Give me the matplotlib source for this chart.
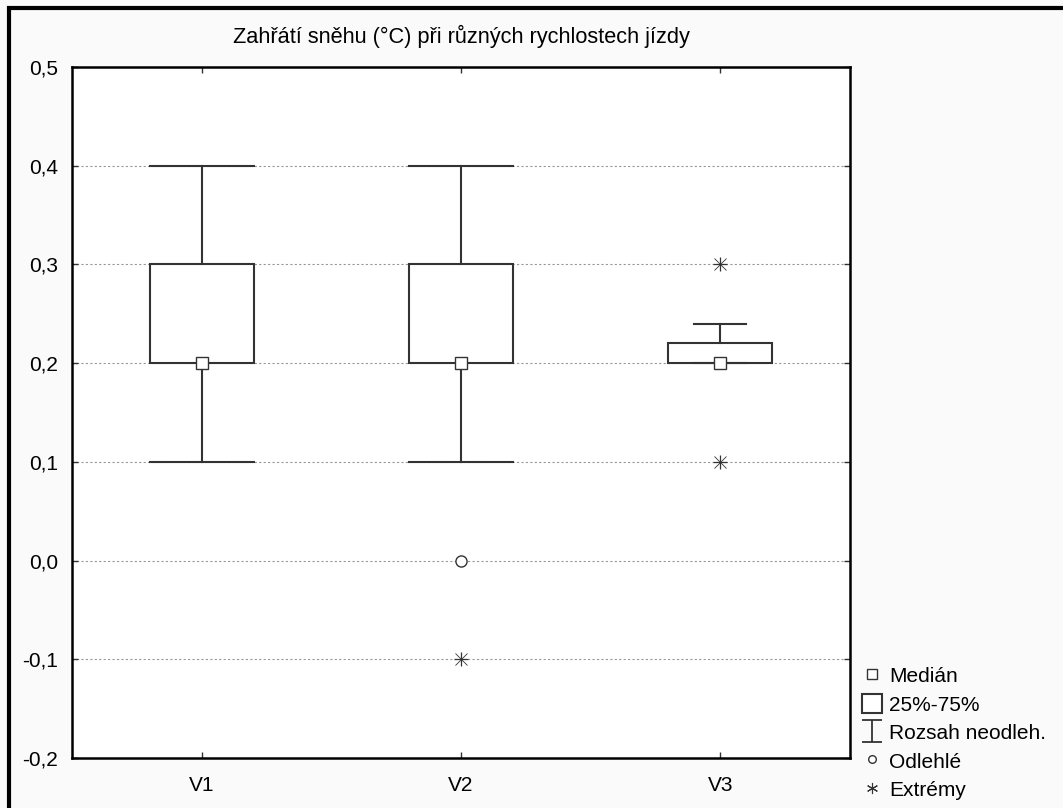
import numpy as np
import matplotlib.pyplot as plt
from matplotlib.lines import Line2D
from matplotlib.patches import Rectangle
from matplotlib.path import Path

plt.rcParams['font.family'] = ['Liberation Sans', 'DejaVu Sans']

# box summary
cats = ['V1', 'V2', 'V3']
med = [0.2, 0.2, 0.2]
q1 = [0.2, 0.2, 0.2]
q3 = [0.3, 0.3, 0.22]
whislo = [0.1, 0.1, 0.2]
whishi = [0.4, 0.4, 0.24]
outliers = [[], [0.0], []]
extremes = [[], [-0.1], [0.3, 0.1]]
yticks = [-0.2, -0.1, 0.0, 0.1, 0.2, 0.3, 0.4, 0.5]

W, H = 1063, 808
fs = 15
fig = plt.figure(figsize=(W/100, H/100), dpi=100, facecolor='#fafafa')
ax = fig.add_axes([72/W, 1-758/H, (850-72)/W, (758-67)/H])

# outer frame (right/bottom run off the picture)
fig.patches.append(Rectangle((8.5/W, -0.05), 1.1, 1-8.5/H+0.05, transform=fig.transFigure,
                             fill=False, lw=3, ec='black'))

stats = []
for i in range(len(cats)):
    stats.append(dict(med=med[i], q1=q1[i], q3=q3[i], whislo=whislo[i], whishi=whishi[i],
                      fliers=[], label=cats[i]))

col = '#333333'
pos = np.arange(1, len(cats)+1)
ax.bxp(stats, positions=pos, widths=0.4, capwidths=[0.4, 0.4, 0.2], patch_artist=True,
       showfliers=False,
       boxprops=dict(facecolor='white', edgecolor=col, lw=1.5),
       whiskerprops=dict(color=col, lw=1.5),
       capprops=dict(color=col, lw=1.5),
       medianprops=dict(lw=0))

ax.plot(pos, med, 's', ms=8, mfc='white', mec=col, mew=1.0, zorder=5, ls='none')
for p, vals in zip(pos, outliers):
    if vals:
        ax.plot([p]*len(vals), vals, 'o', ms=8, mfc='white', mec=col, mew=1.0, zorder=5)
for p, vals in zip(pos, extremes):
    if vals:
        ax.plot([p]*len(vals), vals, '+', ms=10, color=col, mew=0.9, zorder=5)
        ax.plot([p]*len(vals), vals, 'x', ms=8, color=col, mew=0.6, zorder=5)

ax.set_xlim(0.5, 3.5)
ax.set_ylim(-0.2, 0.5)
ax.set_xticks(pos)
ax.set_xticklabels(cats)
ax.set_yticks(yticks)
ax.set_yticklabels([('%.1f' % v).replace('.', ',') for v in yticks])
ax.tick_params(direction='in', length=4, width=1, labelsize=fs, top=True, right=True, color=col)
ax.tick_params(axis='y', pad=10)
ax.tick_params(axis='x', pad=13)
for v in yticks[1:-1]:
    ax.axhline(v, color='#999999', lw=0.8, ls=(0, (2, 2)), zorder=0)
for s in ax.spines.values():
    s.set_linewidth(1.8)
    s.set_color('black')

ax.set_title('Zahřátí sněhu (°C) při různých rychlostech jízdy', fontsize=15.7, pad=17)

# legend
ibeam = Path([(-0.9, 1), (0.9, 1), (0, 1), (0, -1), (-0.9, -1), (0.9, -1)],
             [Path.MOVETO, Path.LINETO, Path.MOVETO, Path.LINETO, Path.MOVETO, Path.LINETO])
handles = [
    Line2D([], [], ls='none', marker='s', ms=6.5, mfc='white', mec=col, mew=1.0),
    Rectangle((0, 0), 1, 1, fc='white', ec=col, lw=1.5),
    Line2D([], [], ls='none', marker=ibeam, ms=16, mfc='none', mec=col, mew=1.3),
    Line2D([], [], ls='none', marker='o', ms=5.5, mfc='white', mec=col, mew=1.0),
    Line2D([], [], ls='none', marker=(6, 2, 0), ms=8, color=col, mew=0.8),
]
labels = ['Medián', '25%-75%', 'Rozsah neodleh.', 'Odlehlé', 'Extrémy']
fig.legend(handles, labels, loc='lower left', bbox_to_anchor=(862/W, 8/H), frameon=False,
           fontsize=fs, handlelength=0.95, handleheight=1.0, handletextpad=0.35,
           labelspacing=0.38, borderpad=0, borderaxespad=0)

fig.savefig('out.png', dpi=100, facecolor=fig.get_facecolor())
